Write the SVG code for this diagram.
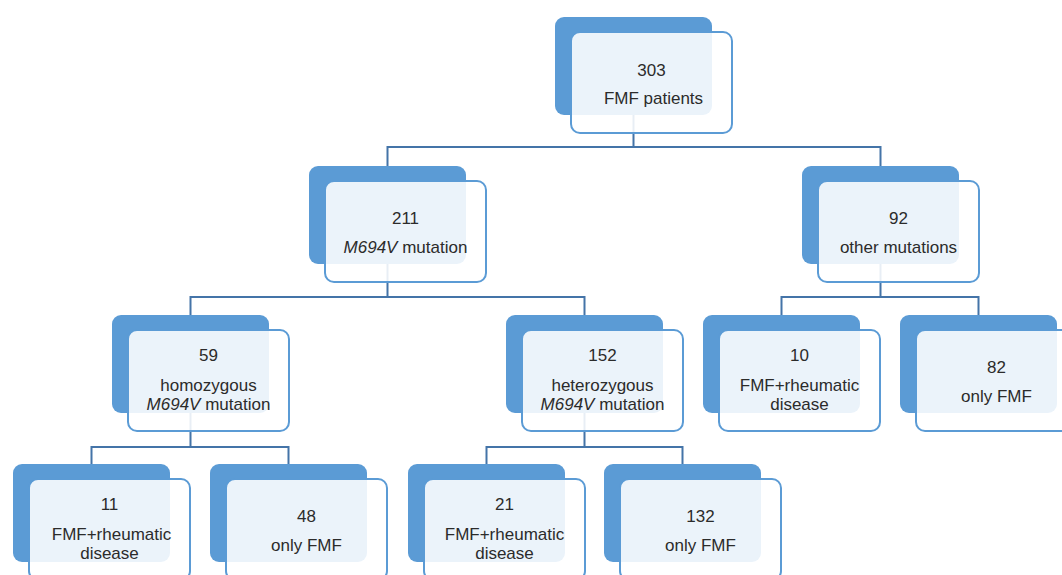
<svg xmlns="http://www.w3.org/2000/svg" width="1062" height="575" viewBox="0 0 1062 575">
<style>
.bk{fill:#5b9bd5}
.fr{fill:#ffffff;fill-opacity:0.88;stroke:#5b9bd5;stroke-width:2}
.c{fill:none;stroke:#4474a8;stroke-width:2}
text{font-family:"Liberation Sans",Arial,sans-serif;font-size:17px;fill:#2b2b2b;text-anchor:middle}
.i{font-style:italic}
</style>
<rect width="1062" height="575" fill="#ffffff"/>
<g id="connectors">
<path class="c" d="M633.5,115V147M387.5,166V147H880.5V166"/>
<path class="c" d="M387.5,264V297M190.5,315V297H584.5V315"/>
<path class="c" d="M880.5,264V297M781.5,315V297H978.5V315"/>
<path class="c" d="M190.5,413V447M91.5,464V447H288.5V464"/>
<path class="c" d="M584.5,413V447M486.5,464V447H682.5V464"/>
</g>
<g id="n303"><rect class="bk" x="555" y="17" width="157" height="98" rx="9"/><rect class="fr" x="571" y="32" width="161" height="101" rx="9"/><text x="651.5" y="76">303</text><text x="653.5" y="104">FMF patients</text></g>
<g id="n211"><rect class="bk" x="309" y="166" width="157" height="98" rx="9"/><rect class="fr" x="325" y="181" width="161" height="101" rx="9"/><text x="405.5" y="224">211</text><text x="405.5" y="252.5"><tspan class="i">M694V</tspan> mutation</text></g>
<g id="n92"><rect class="bk" x="802" y="166" width="157" height="98" rx="9"/><rect class="fr" x="818" y="181" width="161" height="101" rx="9"/><text x="898.5" y="224">92</text><text x="898.5" y="252.5">other mutations</text></g>
<g id="n59"><rect class="bk" x="112" y="315" width="157" height="98" rx="9"/><rect class="fr" x="128" y="330" width="161" height="101" rx="9"/><text x="208.5" y="361">59</text><text x="208.5" y="391">homozygous</text><text x="208.5" y="410"><tspan class="i">M694V</tspan> mutation</text></g>
<g id="n152"><rect class="bk" x="506" y="315" width="157" height="98" rx="9"/><rect class="fr" x="522" y="330" width="161" height="101" rx="9"/><text x="602.5" y="361">152</text><text x="602.5" y="391">heterozygous</text><text x="602.5" y="410"><tspan class="i">M694V</tspan> mutation</text></g>
<g id="n10"><rect class="bk" x="703" y="315" width="157" height="98" rx="9"/><rect class="fr" x="719" y="330" width="161" height="101" rx="9"/><text x="799.5" y="361">10</text><text x="799.5" y="391">FMF+rheumatic</text><text x="799.5" y="410">disease</text></g>
<g id="n82"><rect class="bk" x="900" y="315" width="157" height="98" rx="9"/><rect class="fr" x="916" y="330" width="161" height="101" rx="9"/><text x="996.5" y="373">82</text><text x="996.5" y="401.5">only FMF</text></g>
<g id="n11"><rect class="bk" x="13" y="464" width="157" height="98" rx="9"/><rect class="fr" x="29" y="479" width="161" height="101" rx="9"/><text x="109.5" y="510">11</text><text x="111.5" y="540">FMF+rheumatic</text><text x="109.5" y="559">disease</text></g>
<g id="n48"><rect class="bk" x="210" y="464" width="157" height="98" rx="9"/><rect class="fr" x="226" y="479" width="161" height="101" rx="9"/><text x="306.5" y="522">48</text><text x="306.5" y="550.5">only FMF</text></g>
<g id="n21"><rect class="bk" x="408" y="464" width="157" height="98" rx="9"/><rect class="fr" x="424" y="479" width="161" height="101" rx="9"/><text x="504.5" y="510">21</text><text x="504.5" y="540">FMF+rheumatic</text><text x="504.5" y="559">disease</text></g>
<g id="n132"><rect class="bk" x="604" y="464" width="157" height="98" rx="9"/><rect class="fr" x="620" y="479" width="161" height="101" rx="9"/><text x="700.5" y="522">132</text><text x="700.5" y="550.5">only FMF</text></g>
</svg>
